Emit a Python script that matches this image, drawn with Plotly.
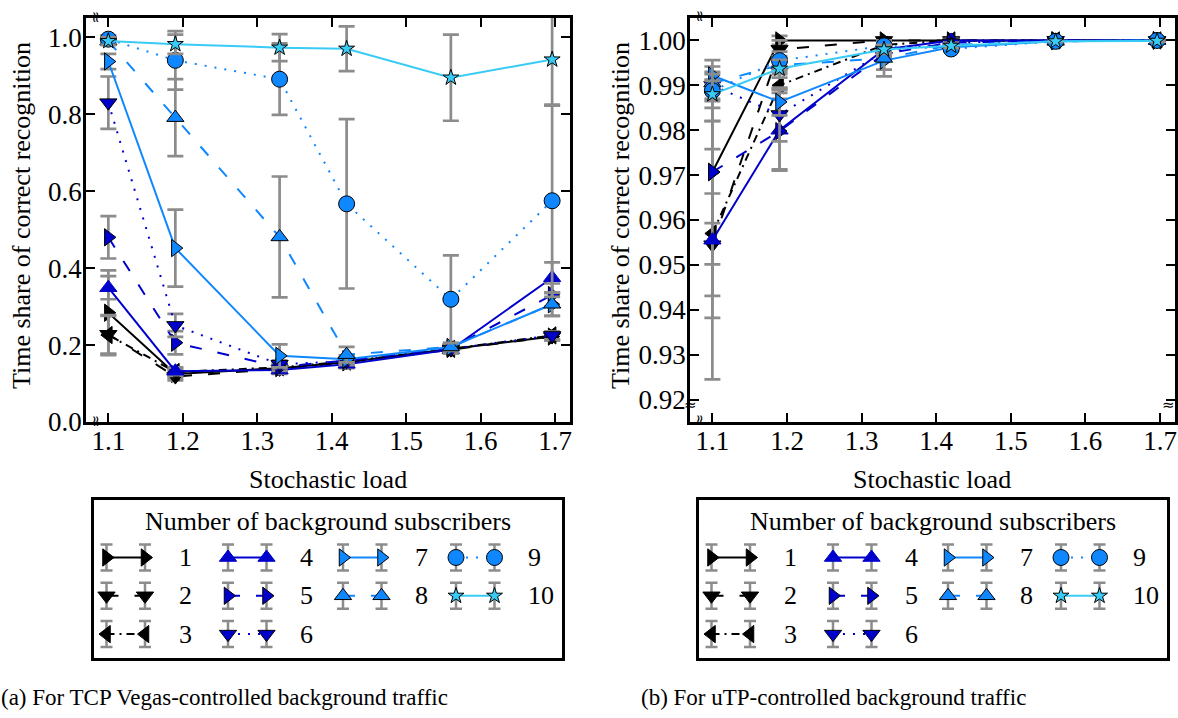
import plotly.graph_objects as go

# ---------------- data ----------------
load = [1.1, 1.19, 1.33, 1.42, 1.56, 1.696]
subscribers = ["1", "2", "3", "4", "5", "6", "7", "8", "9", "10"]

x_ticks = [1.1, 1.2, 1.3, 1.4, 1.5, 1.6, 1.7]
vegas_ticks = [0.0, 0.2, 0.4, 0.6, 0.8, 1.0]
utp_ticks = [0.92, 0.93, 0.94, 0.95, 0.96, 0.97, 0.98, 0.99, 1.00]

# (a) TCP Vegas-controlled background traffic
vegas_1 = [0.284, 0.125, 0.140, 0.155, 0.190, 0.222]
vegas_2 = [0.228, 0.118, 0.138, 0.155, 0.188, 0.222]
vegas_3 = [0.226, 0.130, 0.142, 0.157, 0.190, 0.225]
vegas_4 = [0.349, 0.132, 0.135, 0.150, 0.188, 0.375]
vegas_5 = [0.480, 0.206, 0.143, 0.160, 0.192, 0.330]
vegas_6 = [0.830, 0.251, 0.150, 0.158, 0.190, 0.225]
vegas_7 = [0.937, 0.452, 0.172, 0.163, 0.195, 0.306]
vegas_8 = [0.990, 0.791, 0.481, 0.175, 0.195, 0.306]
vegas_9 = [0.995, 0.940, 0.891, 0.567, 0.319, 0.575]
vegas_10 = [0.990, 0.982, 0.973, 0.970, 0.895, 0.942]

vegas_err_1 = [0.110, 0.010, 0.010, 0.010, 0.010, 0.010]
vegas_err_2 = [0.050, 0.010, 0.010, 0.010, 0.010, 0.010]
vegas_err_3 = [0.050, 0.010, 0.010, 0.010, 0.010, 0.010]
vegas_err_4 = [0.030, 0.010, 0.010, 0.010, 0.010, 0.040]
vegas_err_5 = [0.055, 0.030, 0.010, 0.010, 0.010, 0.030]
vegas_err_6 = [0.068, 0.030, 0.010, 0.010, 0.010, 0.010]
vegas_err_7 = [0.020, 0.100, 0.030, 0.010, 0.010, 0.030]
vegas_err_8 = [0.010, 0.100, 0.157, 0.020, 0.010, 0.030]
vegas_err_9 = [0.010, 0.076, 0.093, 0.220, 0.114, 0.250]
vegas_err_10 = [0.010, 0.025, 0.035, 0.058, 0.112, 0.120]

# (b) uTP-controlled background traffic
utp_1 = [0.9707, 1.0000, 1.0000, 1.0000, 1.0000, 1.0000]
utp_2 = [0.9545, 0.9980, 1.0000, 1.0000, 1.0000, 1.0000]
utp_3 = [0.9570, 0.9900, 0.9990, 1.0000, 1.0000, 1.0000]
utp_4 = [0.9555, 0.9800, 0.9980, 1.0000, 1.0000, 1.0000]
utp_5 = [0.9707, 0.9798, 0.9970, 0.9995, 1.0000, 1.0000]
utp_6 = [0.9900, 0.9835, 0.9975, 0.9995, 1.0000, 1.0000]
utp_7 = [0.9922, 0.9863, 0.9955, 0.9985, 0.9998, 1.0000]
utp_8 = [0.9905, 0.9945, 0.9960, 0.9990, 0.9998, 1.0000]
utp_9 = [0.9888, 0.9955, 0.9988, 0.9981, 0.9998, 1.0000]
utp_10 = [0.9880, 0.9937, 0.9980, 0.9988, 0.9998, 0.9999]

utp_err_1 = [0.0206, 0.0010, 0.0005, 0.0003, 0.0002, 0.0002]
utp_err_2 = [0.0114, 0.0020, 0.0005, 0.0003, 0.0002, 0.0002]
utp_err_3 = [0.0188, 0.0030, 0.0010, 0.0003, 0.0002, 0.0002]
utp_err_4 = [0.0310, 0.0090, 0.0010, 0.0003, 0.0002, 0.0002]
utp_err_5 = [0.0114, 0.0085, 0.0010, 0.0003, 0.0002, 0.0002]
utp_err_6 = [0.0030, 0.0060, 0.0010, 0.0003, 0.0002, 0.0002]
utp_err_7 = [0.0020, 0.0030, 0.0020, 0.0005, 0.0002, 0.0002]
utp_err_8 = [0.0020, 0.0020, 0.0040, 0.0005, 0.0002, 0.0002]
utp_err_9 = [0.0068, 0.0020, 0.0010, 0.0005, 0.0002, 0.0002]
utp_err_10 = [0.0030, 0.0020, 0.0010, 0.0005, 0.0002, 0.0002]

vegas_means = [vegas_1, vegas_2, vegas_3, vegas_4, vegas_5, vegas_6, vegas_7, vegas_8, vegas_9, vegas_10]
vegas_errs = [vegas_err_1, vegas_err_2, vegas_err_3, vegas_err_4, vegas_err_5,
              vegas_err_6, vegas_err_7, vegas_err_8, vegas_err_9, vegas_err_10]
utp_means = [utp_1, utp_2, utp_3, utp_4, utp_5, utp_6, utp_7, utp_8, utp_9, utp_10]
utp_errs = [utp_err_1, utp_err_2, utp_err_3, utp_err_4, utp_err_5,
            utp_err_6, utp_err_7, utp_err_8, utp_err_9, utp_err_10]

# ---------------- styles ----------------
W, H = 1178, 718
FONT = "Liberation Serif"
BLACK = "#000000"
DARK = "#0000CC"
MED = "#0F88FF"
LIGHT = "#38CBF5"
ERR = "#8C8C8C"

colors = [BLACK, BLACK, BLACK, DARK, DARK, DARK, MED, MED, MED, LIGHT]
edges = [BLACK, BLACK, BLACK, DARK, BLACK, BLACK, BLACK, BLACK, BLACK, BLACK]
dashes = ["solid", "12px,16px", "8px,5px,2px,5px", "solid", "12px,16px", "2px,8px",
          "solid", "12px,16px", "2px,8px", "solid"]
symbols = ["triangle-right", "triangle-down", "triangle-left", "triangle-up", "triangle-right",
           "triangle-down", "triangle-right", "triangle-up", "circle", "star"]
sizes = [15, 15, 15, 15, 15, 15, 15, 15, 16, 12]

def px_x(p):
    return p / W

def px_y(p):
    return 1 - p / H

fig = go.Figure()

def add_panel(xa, ya, means, errs):
    for i in range(len(subscribers)):
        fig.add_trace(go.Scatter(
            x=load, y=means[i], xaxis=xa, yaxis=ya, mode="lines+markers",
            line=dict(color=colors[i], width=2, dash=dashes[i]),
            marker=dict(symbol=symbols[i], size=sizes[i], color=colors[i],
                        line=dict(color=edges[i], width=1)),
            error_y=dict(type="data", array=errs[i], color=ERR, thickness=2.7, width=8),
            showlegend=False, cliponaxis=True, name=subscribers[i]))

add_panel("x", "y", vegas_means, vegas_errs)
add_panel("x2", "y2", utp_means, utp_errs)

# ---------------- manual legends ----------------
legend_col = [0, 0, 0, 1, 1, 1, 2, 2, 3, 3]
legend_row = [0, 1, 2, 0, 1, 2, 0, 1, 0, 1]
col_x = [12.5, 134, 249, 362]
row_y0, row_dy, pair_dx, label_dx = 57.5, 38.3, 38.5, 70
BOX_W, BOX_H = 468, 158

annotations = []
for xa, ya in (("x3", "y3"), ("x4", "y4")):
    for i in range(len(subscribers)):
        x0 = col_x[legend_col[i]]
        y0 = row_y0 + legend_row[i] * row_dy
        fig.add_trace(go.Scatter(
            x=[x0, x0 + pair_dx], y=[y0, y0], xaxis=xa, yaxis=ya, mode="lines+markers",
            line=dict(color=colors[i], width=2, dash=dashes[i]),
            marker=dict(symbol=symbols[i], size=sizes[i], color=colors[i],
                        line=dict(color=edges[i], width=1)),
            error_y=dict(type="constant", value=13, color=ERR, thickness=2.5, width=6),
            showlegend=False, hoverinfo="skip"))
        annotations.append(dict(xref=xa, yref=ya, x=x0 + label_dx, y=y0, text=subscribers[i],
                                showarrow=False, xanchor="left", yanchor="middle",
                                font=dict(family=FONT, size=26, color="black")))
    annotations.append(dict(xref=xa, yref=ya, x=BOX_W / 2, y=21,
                            text="Number of background subscribers", showarrow=False,
                            xanchor="center", yanchor="middle",
                            font=dict(family=FONT, size=26, color="black")))

# axis titles and captions
for cx in (21, 620):
    annotations.append(dict(xref="paper", yref="paper", x=px_x(cx), y=px_y(216),
                            text="Time share of correct recognition", textangle=-90,
                            showarrow=False, xanchor="center", yanchor="middle",
                            font=dict(family=FONT, size=26, color="black")))
for cx in (328, 932):
    annotations.append(dict(xref="paper", yref="paper", x=px_x(cx), y=px_y(479),
                            text="Stochastic load", showarrow=False,
                            xanchor="center", yanchor="middle",
                            font=dict(family=FONT, size=26, color="black")))
annotations.append(dict(xref="paper", yref="paper", x=px_x(224), y=px_y(697),
                        text="(a) For TCP Vegas-controlled background traffic", showarrow=False,
                        xanchor="center", yanchor="middle",
                        font=dict(family=FONT, size=23, color="black")))
annotations.append(dict(xref="paper", yref="paper", x=px_x(833), y=px_y(697),
                        text="(b) For uTP-controlled background traffic", showarrow=False,
                        xanchor="center", yanchor="middle",
                        font=dict(family=FONT, size=23, color="black")))

# axis break marks
for bx, by, ang in ((96, 17, 90), (96, 421, 90), (700, 17, 90), (700, 421, 90),
                    (690, 405, 0), (1168, 405, 0)):
    annotations.append(dict(xref="paper", yref="paper", x=px_x(bx), y=px_y(by), text="≈",
                            textangle=ang, showarrow=False, xanchor="center", yanchor="middle",
                            font=dict(family="DejaVu Sans", size=15, color="black")))

axis_common = dict(showline=True, linewidth=2.5, linecolor="black", mirror="ticks",
                   ticks="inside", ticklen=9, tickwidth=1.5, tickcolor="black",
                   showgrid=False, zeroline=False, automargin=False,
                   tickfont=dict(family=FONT, size=27, color="black"))

hidden = dict(showline=True, linewidth=2.5, linecolor="black", mirror=True, ticks="",
              showticklabels=False, showgrid=False, zeroline=False, fixedrange=True,
              automargin=False)

fig.update_layout(
    width=W, height=H, autosize=False, margin=dict(l=0, r=0, t=0, b=0, pad=0),
    paper_bgcolor="white", plot_bgcolor="white", showlegend=False,
    xaxis=dict(domain=[px_x(86), px_x(570)], anchor="y", range=[1.07, 1.72],
               tickvals=x_ticks, ticktext=[f"{v:.1f}" for v in x_ticks],
               ticklabelstandoff=-7, **axis_common),
    yaxis=dict(domain=[px_y(422), px_y(18)], anchor="x", range=[0.0, 1.05],
               tickvals=vegas_ticks, ticktext=[f"{v:.1f}" for v in vegas_ticks],
               ticklabelstandoff=-4, **axis_common),
    xaxis2=dict(domain=[px_x(690), px_x(1175)], anchor="y2", range=[1.07, 1.72],
                tickvals=x_ticks, ticktext=[f"{v:.1f}" for v in x_ticks],
                ticklabelstandoff=-7, **axis_common),
    yaxis2=dict(domain=[px_y(422), px_y(18)], anchor="x2", range=[0.915, 1.005],
                tickvals=utp_ticks, ticktext=[f"{v:.2f}" for v in utp_ticks],
                ticklabelstandoff=-4, **axis_common),
    xaxis3=dict(domain=[px_x(94), px_x(94 + BOX_W)], anchor="y3", range=[0, BOX_W], **hidden),
    yaxis3=dict(domain=[px_y(500 + BOX_H), px_y(500)], anchor="x3", range=[BOX_H, 0], **hidden),
    xaxis4=dict(domain=[px_x(699), px_x(699 + BOX_W)], anchor="y4", range=[0, BOX_W], **hidden),
    yaxis4=dict(domain=[px_y(500 + BOX_H), px_y(500)], anchor="x4", range=[BOX_H, 0], **hidden),
    annotations=annotations,
)

fig.write_html("out.html", config={"responsive": False})
